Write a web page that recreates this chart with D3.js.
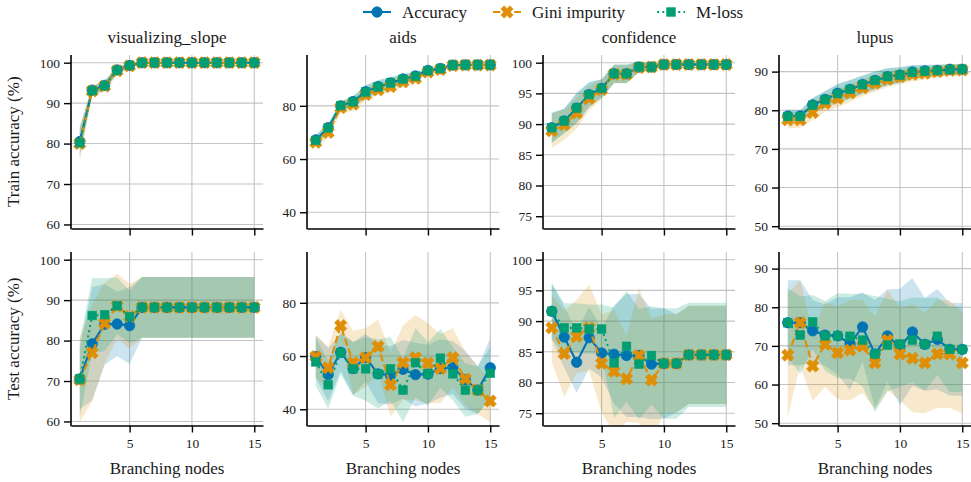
<!DOCTYPE html>
<html>
<head>
<meta charset="utf-8">
<script src="https://cdn.jsdelivr.net/npm/d3@7"></script>
<style>
  body { margin: 0; background: #ffffff; }
</style>
</head>
<body>
<svg id="chart" width="971" height="482"></svg>
<script>
// ---- data -----------------------------------------------------------------
const branchingNodes = d3.range(1, 16);
const datasetTitles = ["visualizing_slope", "aids", "confidence", "lupus"];
const methodNames = ["Accuracy", "Gini impurity", "M-loss"];
const rowLabels = ["Train accuracy (%)", "Test accuracy (%)"];
const xLabel = "Branching nodes";
const xTicks = [5, 10, 15];
const yTicks = [[60, 70, 80, 90, 100], [40, 60, 80], [75, 80, 85, 90, 95, 100], [50, 60, 70, 80, 90]];
const yLimits = [[59, 101.9], [33.9, 99.1], [73, 101.25], [49.4, 94.3]];

// visualizing_slope
const slopeTrainAcc      = [80.5, 93.2, 94.4, 98.2, 99.3, 100, 100, 100, 100, 100, 100, 100, 100, 100, 100];
const slopeTrainAccStd   = [3.5, 1.0, 1.2, 0.8, 0.5, 0, 0, 0, 0, 0, 0, 0, 0, 0, 0];
const slopeTrainGini     = [80.0, 93.0, 94.2, 98.0, 99.2, 100, 100, 100, 100, 100, 100, 100, 100, 100, 100];
const slopeTrainGiniStd  = [4.5, 1.2, 1.2, 1.0, 0.6, 0, 0, 0, 0, 0, 0, 0, 0, 0, 0];
const slopeTrainMloss    = [80.2, 93.1, 94.3, 98.1, 99.3, 100, 100, 100, 100, 100, 100, 100, 100, 100, 100];
const slopeTrainMlossStd = [3.2, 1.0, 1.3, 0.9, 0.5, 0, 0, 0, 0, 0, 0, 0, 0, 0, 0];
const slopeTestAcc       = [70.5, 79.2, 84.0, 84.1, 83.7, 88.2, 88.2, 88.2, 88.2, 88.2, 88.2, 88.2, 88.2, 88.2, 88.2];
const slopeTestAccStd    = [7.5, 14, 10, 8, 9.5, 7.5, 7.5, 7.5, 7.5, 7.5, 7.5, 7.5, 7.5, 7.5, 7.5];
const slopeTestGini      = [70.3, 77.0, 84.3, 88.5, 86.0, 88.2, 88.2, 88.2, 88.2, 88.2, 88.2, 88.2, 88.2, 88.2, 88.2];
const slopeTestGiniStd   = [10.5, 12, 10, 8, 8, 7.5, 7.5, 7.5, 7.5, 7.5, 7.5, 7.5, 7.5, 7.5, 7.5];
const slopeTestMloss     = [70.5, 86.2, 86.4, 88.6, 85.9, 88.2, 88.2, 88.2, 88.2, 88.2, 88.2, 88.2, 88.2, 88.2, 88.2];
const slopeTestMlossStd  = [9.5, 9.3, 9, 7, 6.5, 7.5, 7.5, 7.5, 7.5, 7.5, 7.5, 7.5, 7.5, 7.5, 7.5];

// aids
const aidsTrainAcc       = [67.2, 71.8, 80.0, 81.6, 85.3, 87.2, 88.6, 90.1, 91.2, 93.3, 94.0, 95.3, 95.4, 95.4, 95.4];
const aidsTrainAccStd    = [1.8, 1.5, 1.5, 2.0, 2.2, 2.3, 2.0, 1.8, 1.5, 0.8, 0.6, 0.4, 0.4, 0.4, 0.4];
const aidsTrainGini      = [66.3, 70.0, 79.3, 80.6, 84.2, 86.0, 87.2, 89.0, 90.3, 92.7, 93.6, 95.1, 95.3, 95.3, 95.3];
const aidsTrainGiniStd   = [2.5, 2.0, 2.0, 2.5, 2.2, 2.0, 2.0, 1.8, 1.5, 1.0, 0.8, 0.5, 0.4, 0.4, 0.4];
const aidsTrainMloss     = [67.0, 71.7, 80.1, 81.5, 85.2, 87.1, 88.6, 90.0, 91.1, 93.2, 94.0, 95.3, 95.4, 95.4, 95.4];
const aidsTrainMlossStd  = [2.0, 1.6, 1.6, 2.2, 2.6, 2.6, 2.2, 2.0, 1.6, 0.8, 0.6, 0.4, 0.4, 0.4, 0.4];
const aidsTestAcc        = [59.8, 53.0, 61.4, 55.3, 59.4, 53.3, 52.8, 55.0, 53.0, 53.2, 55.3, 55.7, 51.1, 47.2, 55.6];
const aidsTestAccStd     = [8, 10, 7, 10, 9, 11, 11, 11, 12, 11, 11, 10, 11, 9, 11];
const aidsTestGini       = [59.8, 55.6, 71.4, 57.5, 59.4, 63.6, 49.2, 57.5, 59.4, 57.3, 55.3, 59.4, 51.4, 47.2, 43.1];
const aidsTestGiniStd    = [8, 8, 6, 12, 11, 10, 12, 14, 16, 15, 13, 11, 10, 9, 8];
const aidsTestMloss      = [57.8, 49.2, 61.2, 55.2, 55.2, 53.3, 55.2, 47.2, 57.5, 53.3, 59.2, 53.3, 47.2, 47.2, 53.5];
const aidsTestMlossStd   = [9, 9, 8, 10, 12, 13, 12, 12, 13, 12, 11, 10, 10, 9, 10];

// confidence
const confTrainAcc       = [89.4, 90.5, 92.6, 94.8, 95.8, 98.2, 98.2, 99.3, 99.3, 99.7, 99.7, 99.7, 99.7, 99.7, 99.7];
const confTrainAccStd    = [2.4, 2.0, 2.4, 2.0, 1.5, 1.5, 1.5, 0.8, 0.6, 0.2, 0.2, 0.2, 0.2, 0.2, 0.2];
const confTrainGini      = [88.9, 89.9, 91.8, 94.2, 95.6, 98.1, 98.1, 99.2, 99.3, 99.7, 99.7, 99.7, 99.7, 99.7, 99.7];
const confTrainGiniStd   = [2.8, 2.5, 2.5, 2.0, 1.6, 1.5, 1.5, 0.8, 0.6, 0.2, 0.2, 0.2, 0.2, 0.2, 0.2];
const confTrainMloss     = [89.4, 90.5, 92.6, 94.8, 95.8, 98.2, 98.2, 99.3, 99.3, 99.7, 99.7, 99.7, 99.7, 99.7, 99.7];
const confTrainMlossStd  = [2.5, 2.0, 2.5, 2.0, 1.5, 1.5, 1.5, 0.8, 0.6, 0.2, 0.2, 0.2, 0.2, 0.2, 0.2];
const confTestAcc        = [91.6, 87.4, 83.3, 87.3, 84.8, 84.6, 84.4, 84.4, 83.0, 83.1, 83.1, 84.5, 84.5, 84.5, 84.5];
const confTestAccStd     = [4.5, 5, 5, 5, 4, 8, 10, 10, 9, 9, 8, 8, 8, 8, 8];
const confTestGini       = [88.9, 84.7, 87.5, 88.9, 83.1, 81.8, 80.6, 84.4, 80.4, 83.1, 83.1, 84.5, 84.5, 84.5, 84.5];
const confTestGiniStd    = [5.5, 7, 6, 7, 8, 10, 7, 11, 10, 8, 8, 8, 8, 8, 8];
const confTestMloss      = [91.6, 88.9, 88.9, 88.7, 88.7, 83.2, 85.9, 83.0, 84.4, 83.1, 83.1, 84.5, 84.5, 84.5, 84.5];
const confTestMlossStd   = [4.6, 4, 4, 4, 4, 9, 9, 9, 8, 9, 9, 8.5, 8.5, 8.5, 8.5];

// lupus
const lupusTrainAcc      = [78.5, 78.5, 81.4, 82.8, 84.4, 85.4, 86.7, 87.7, 88.7, 89.1, 89.9, 90.2, 90.3, 90.6, 90.6];
const lupusTrainAccStd   = [1.5, 1.5, 1.8, 2.2, 2.4, 2.4, 2.3, 2.3, 2.2, 2.0, 1.8, 1.6, 1.5, 1.4, 1.4];
const lupusTrainGini     = [77.5, 77.5, 79.4, 81.8, 83.1, 84.5, 85.8, 87.0, 88.0, 88.7, 89.3, 89.6, 90.0, 90.3, 90.4];
const lupusTrainGiniStd  = [2.2, 2.0, 2.0, 2.2, 2.3, 2.3, 2.2, 2.2, 2.0, 2.0, 1.8, 1.7, 1.6, 1.5, 1.5];
const lupusTrainMloss    = [78.4, 78.4, 81.3, 82.7, 84.3, 85.4, 86.6, 87.7, 88.7, 89.1, 89.8, 90.1, 90.3, 90.5, 90.6];
const lupusTrainMlossStd = [1.6, 1.6, 1.9, 2.2, 2.4, 2.4, 2.3, 2.3, 2.2, 2.0, 1.8, 1.6, 1.5, 1.4, 1.4];
const lupusTestAcc       = [76.0, 76.0, 73.9, 72.8, 72.6, 70.6, 74.9, 67.9, 72.6, 69.8, 73.6, 70.4, 71.7, 69.1, 69.1];
const lupusTestAccStd    = [11, 11, 8, 8, 10, 12, 9, 14, 12, 15, 14, 12, 13, 12, 12];
const lupusTestGini      = [67.6, 76.0, 64.8, 70.4, 68.2, 68.9, 69.9, 65.6, 71.5, 67.9, 66.8, 65.6, 67.9, 67.9, 65.6];
const lupusTestGiniStd   = [16, 11, 9, 11, 12, 13, 12, 12, 13, 12, 14, 13, 14, 14, 13];
const lupusTestMloss     = [76.0, 72.8, 76.2, 72.6, 72.6, 72.5, 71.5, 67.9, 70.2, 70.5, 71.5, 70.4, 72.5, 69.1, 69.1];
const lupusTestMlossStd  = [9, 10, 7, 9, 11, 11, 12, 15, 12, 11, 11, 12, 10, 11, 11];

// ---- figure structure ---------------------------------------------------------
const methodColors = ["#0173b2", "#de8f05", "#029e73"];
const methodDash = [null, "7.4,3.2", "2,3.3"];
const serifFont = '"Liberation Serif", "Tinos", "Times New Roman", "DejaVu Serif", "Noto Serif", serif';

const panelSeries = [
  [[[slopeTrainAcc, slopeTrainAccStd], [slopeTrainGini, slopeTrainGiniStd], [slopeTrainMloss, slopeTrainMlossStd]],
   [[slopeTestAcc, slopeTestAccStd], [slopeTestGini, slopeTestGiniStd], [slopeTestMloss, slopeTestMlossStd]]],
  [[[aidsTrainAcc, aidsTrainAccStd], [aidsTrainGini, aidsTrainGiniStd], [aidsTrainMloss, aidsTrainMlossStd]],
   [[aidsTestAcc, aidsTestAccStd], [aidsTestGini, aidsTestGiniStd], [aidsTestMloss, aidsTestMlossStd]]],
  [[[confTrainAcc, confTrainAccStd], [confTrainGini, confTrainGiniStd], [confTrainMloss, confTrainMlossStd]],
   [[confTestAcc, confTestAccStd], [confTestGini, confTestGiniStd], [confTestMloss, confTestMlossStd]]],
  [[[lupusTrainAcc, lupusTrainAccStd], [lupusTrainGini, lupusTrainGiniStd], [lupusTrainMloss, lupusTrainMlossStd]],
   [[lupusTestAcc, lupusTestAccStd], [lupusTestGini, lupusTestGiniStd], [lupusTestMloss, lupusTestMlossStd]]]
];

const svg = d3.select("#chart").attr("font-family", serifFont);
const colLeft = [71, 307, 543, 779];
const plotW = 192;
const rowTop = [55, 252];
const plotH = 173.5;
const labelFont = 17, tickFont = 13.5;
const textColor = "#1a1a1a";

// filled "X" marker: a plus polygon rotated by 45 degrees
function xMarkerPath(r) {
  const w = r * 0.36;
  const pts = [[w, w], [w, r], [-w, r], [-w, w], [-r, w], [-r, -w], [-w, -w], [-w, -r], [w, -r], [w, -w], [r, -w], [r, w]];
  const c = Math.SQRT1_2;
  return "M" + pts.map(([a, b]) => [((a - b) * c).toFixed(2), ((a + b) * c).toFixed(2)].join(",")).join("L") + "Z";
}

function drawMarker(g, m, cx, cy) {
  const col = methodColors[m];
  if (m === 0) {
    g.append("circle").attr("cx", cx).attr("cy", cy).attr("r", 5.2)
      .attr("fill", col).attr("stroke", col).attr("stroke-width", 0.8);
  } else if (m === 1) {
    g.append("path").attr("d", xMarkerPath(6.4)).attr("transform", `translate(${cx},${cy})`)
      .attr("fill", col).attr("stroke", col).attr("stroke-width", 0.6);
  } else {
    const s = 8.6;
    g.append("rect").attr("x", cx - s / 2).attr("y", cy - s / 2).attr("width", s).attr("height", s)
      .attr("fill", col).attr("stroke", col).attr("stroke-width", 0.6);
  }
}

function addText(x, y, str, opts = {}) {
  const t = svg.append("text").attr("x", x).attr("y", y)
    .attr("font-family", serifFont).attr("font-size", opts.size || labelFont)
    .attr("fill", textColor).attr("text-anchor", opts.anchor || "middle").text(str);
  if (opts.transform) t.attr("transform", opts.transform);
  return t;
}

panelSeries.forEach((rows, c) => {
  const x = d3.scaleLinear().domain([0.3, 15.7]).range([colLeft[c], colLeft[c] + plotW]);
  rows.forEach((series, r) => {
    const top = rowTop[r], bottom = top + plotH;
    const y = d3.scaleLinear().domain(yLimits[c]).range([bottom, top]);
    const g = svg.append("g");
    const clipId = `clip-${c}-${r}`;
    svg.append("clipPath").attr("id", clipId).append("rect")
      .attr("x", colLeft[c]).attr("y", top).attr("width", plotW).attr("height", plotH);

    // grid
    const grid = g.append("g").attr("stroke", "#c4c4c4").attr("stroke-width", 1.1);
    xTicks.forEach(t => grid.append("line").attr("x1", x(t)).attr("x2", x(t)).attr("y1", top).attr("y2", bottom));
    yTicks[c].forEach(t => grid.append("line").attr("x1", colLeft[c]).attr("x2", colLeft[c] + plotW).attr("y1", y(t)).attr("y2", y(t)));

    // std bands
    const bands = g.append("g").attr("clip-path", `url(#${clipId})`);
    series.forEach(([mean, sd], m) => {
      const area = d3.area()
        .x((d, i) => x(branchingNodes[i]))
        .y0((d, i) => y(mean[i] - sd[i]))
        .y1((d, i) => y(mean[i] + sd[i]));
      bands.append("path").attr("d", area(mean)).attr("fill", methodColors[m]).attr("fill-opacity", 0.2);
    });

    // lines and markers
    series.forEach(([mean], m) => {
      const line = d3.line().x((d, i) => x(branchingNodes[i])).y(d => y(d));
      const p = g.append("path").attr("d", line(mean)).attr("fill", "none")
        .attr("stroke", methodColors[m]).attr("stroke-width", 2.1);
      if (methodDash[m]) p.attr("stroke-dasharray", methodDash[m]);
      const mg = g.append("g");
      mean.forEach((v, i) => drawMarker(mg, m, x(branchingNodes[i]), y(v)));
    });

    // axes
    const yAxis = d3.axisLeft(y).tickValues(yTicks[c]).tickSize(7).tickSizeOuter(0).tickPadding(4);
    const ya = svg.append("g").attr("transform", `translate(${colLeft[c]},0)`).call(yAxis);
    const xAxis = d3.axisBottom(x).tickValues(xTicks).tickSize(7).tickSizeOuter(0).tickPadding(6);
    if (r === 0) xAxis.tickFormat("");
    const xa = svg.append("g").attr("transform", `translate(0,${bottom})`).call(xAxis);
    [ya, xa].forEach(a => {
      a.attr("font-family", serifFont).attr("font-size", tickFont);
      a.select(".domain").attr("stroke", "#000").attr("stroke-width", 1.6);
      a.selectAll(".tick line").attr("stroke", "#000").attr("stroke-width", 1.4);
      a.selectAll(".tick text").attr("fill", textColor);
    });
    // extend y spine to the corner
    ya.select(".domain").attr("d", `M0,${top}V${bottom + 0.8}`);

    if (r === 0) {
      addText(colLeft[c] + plotW / 2, 43, datasetTitles[c]);
    } else {
      addText(colLeft[c] + plotW / 2, 474, xLabel);
    }
    if (c === 0) {
      addText(0, 0, rowLabels[r], { transform: `translate(19,${(top + bottom) / 2}) rotate(-90)` });
    }
  });
});

// legend
const legendX = [363, 493, 657];
methodNames.forEach((name, m) => {
  const lg = svg.append("g");
  const x0 = legendX[m], y0 = 12;
  const ln = lg.append("line").attr("x1", x0).attr("x2", x0 + 28).attr("y1", y0).attr("y2", y0)
    .attr("stroke", methodColors[m]).attr("stroke-width", 2.1);
  if (methodDash[m]) ln.attr("stroke-dasharray", methodDash[m]);
  drawMarker(lg, m, x0 + 14, y0);
  addText(x0 + 39, y0 + 5.5, name, { anchor: "start" });
});
</script>
</body>
</html>
